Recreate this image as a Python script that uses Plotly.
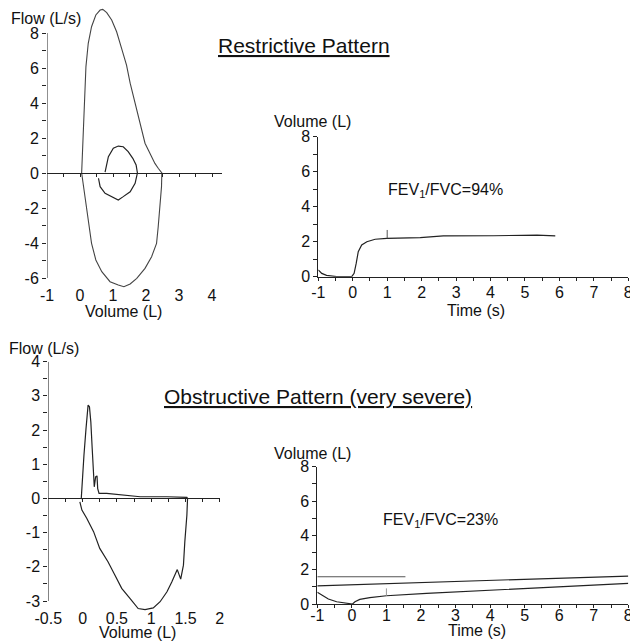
import plotly.graph_objects as go

W, H = 630, 644
FONT = "Liberation Sans, Arial, sans-serif"
INK = "#222222"

# ---------------- data ----------------
# Restrictive: flow-volume loop (forced expiration then inspiration)
rl_loop_vol = [0.05, 0.10, 0.13, 0.18, 0.25, 0.35, 0.48, 0.61, 0.69, 0.81, 0.96, 1.11, 1.26,
               1.41, 1.52, 1.64, 1.77, 1.87, 1.97, 2.07, 2.17, 2.27, 2.37, 2.47,
               2.48, 2.47, 2.42, 2.37, 2.32, 2.17, 1.97, 1.72, 1.52, 1.33, 1.16, 0.91,
               0.66, 0.48, 0.35, 0.25, 0.15, 0.10, 0.05]
rl_loop_flow = [0.00, 2.27, 4.17, 6.08, 7.41, 8.36, 9.03, 9.31, 9.35, 9.16, 8.74, 8.07, 7.12,
                6.17, 5.13, 4.17, 3.22, 2.36, 1.70, 1.31, 0.93, 0.55, 0.27, 0.05,
                0.00, -0.78, -2.11, -3.07, -4.02, -4.78, -5.45, -6.02, -6.34, -6.50, -6.40, -6.21,
                -5.64, -4.97, -4.02, -2.69, -1.16, -0.40, 0.00]
# Restrictive: tidal loop
rl_tidal_vol = [0.56, 0.61, 0.76, 0.96, 1.16, 1.31, 1.52, 1.67, 1.74, 1.70, 1.60, 1.46,
                1.31, 1.16, 1.01, 0.86, 0.76]
rl_tidal_flow = [-0.30, -0.78, -1.16, -1.35, -1.54, -1.35, -1.07, -0.59, 0.00, 0.46, 0.84, 1.22,
                 1.50, 1.54, 1.41, 0.93, 0.05]

# Restrictive: volume-time
rt_time = [-1.0, -0.90, -0.76, -0.47, -0.03, 0.04, 0.10, 0.16, 0.26, 0.41, 0.65, 0.99,
           1.96, 2.63, 4.09, 5.35, 5.88]
rt_vol = [0.38, 0.19, 0.08, 0.00, 0.00, 0.19, 0.76, 1.43, 1.81, 2.00, 2.14, 2.19,
          2.23, 2.33, 2.34, 2.38, 2.33]
rt_fev1_time = [1.0, 1.0]
rt_fev1_vol = [2.19, 2.67]

# Obstructive: flow-volume loop
ol_loop_vol = [-0.02, 0.00, 0.02, 0.05, 0.07, 0.08, 0.10, 0.12, 0.14, 0.16, 0.17, 0.19, 0.21,
               0.22, 0.24, 0.35, 0.59, 0.84, 1.23, 1.52, 1.53,
               1.52, 1.49, 1.47, 1.43, 1.38, 1.30, 1.23, 1.13, 1.03, 0.91, 0.81, 0.69,
               0.57, 0.47, 0.37, 0.25, 0.16, 0.06, -0.01, -0.04]
ol_loop_flow = [-0.02, 0.49, 1.27, 2.05, 2.54, 2.73, 2.68, 2.24, 1.46, 0.78, 0.34, 0.63, 0.66,
                0.29, 0.15, 0.15, 0.10, 0.05, 0.05, 0.03, 0.00,
                -0.49, -1.27, -1.95, -2.36, -2.08, -2.44, -2.73, -3.02, -3.20, -3.25, -3.22, -2.92,
                -2.63, -2.24, -1.85, -1.46, -0.97, -0.58, -0.34, -0.10]

# Obstructive: volume-time
ot_time = [-1.0, -0.83, -0.68, -0.44, -0.15, 0.02, 0.09, 0.23, 0.52, 1.00, 2.16, 4.09, 6.01, 8.0]
ot_vol = [0.68, 0.47, 0.29, 0.13, 0.04, 0.00, 0.13, 0.27, 0.37, 0.48, 0.62, 0.81, 1.01, 1.20]
ot_ref1_time = [-1.0, 1.55]
ot_ref1_vol = [1.59, 1.59]
ot_ref2_time = [-1.0, 8.0]
ot_ref2_vol = [1.06, 1.63]
ot_fev1_time = [1.0, 1.0]
ot_fev1_vol = [0.48, 0.91]

# ticks
rl_x_labels = [-1, 0, 1, 2, 3, 4]
rl_x_text = ["-1", "0", "1", "2", "3", "4"]
rl_x_ticks = [-0.5, 0, 0.5, 1, 1.5, 2, 2.5, 3, 3.5, 4]
rl_y_labels = [-6, -4, -2, 0, 2, 4, 6, 8]
rl_y_text = ["-6", "-4", "-2", "0", "2", "4", "6", "8"]
rl_y_minor = [-5, -3, -1, 1, 3, 5, 7]
t_x_labels = [-1, 0, 1, 2, 3, 4, 5, 6, 7, 8]
t_x_text = ["-1", "0", "1", "2", "3", "4", "5", "6", "7", "8"]
t_x_minor = [-0.5, 0.5, 1.5, 2.5, 3.5, 4.5, 5.5, 6.5, 7.5]
t_y_labels = [0, 2, 4, 6, 8]
t_y_text = ["0", "2", "4", "6", "8"]
t_y_minor = [1, 3, 5, 7]
ol_x_labels = [-0.5, 0, 0.5, 1, 1.5, 2]
ol_x_text = ["-0.5", "0", "0.5", "1", "1.5", "2"]
ol_x_ticks = [-0.25, 0, 0.25, 0.5, 0.75, 1, 1.25, 1.5, 1.75, 2]
ol_y_labels = [-3, -2, -1, 0, 1, 2, 3, 4]
ol_y_text = ["-3", "-2", "-1", "0", "1", "2", "3", "4"]
ol_y_minor = [-2.5, -1.5, -0.5, 0.5, 1.5, 2.5, 3.5]

# ---------------- layout helpers ----------------
def xd(a, b):
    return [a / W, b / W]

def yd(top, bottom):
    return [1 - bottom / H, 1 - top / H]

def zero_pos(dom, rng):
    return dom[0] + (0 - rng[0]) / (rng[1] - rng[0]) * (dom[1] - dom[0])

tickfont = dict(family=FONT, size=16, color="#111")

# panel geometry (pixels)
tl_xr, tl_yr = [-1, 4.3], [-6.7, 9.6]
tl_xd, tl_yd = xd(47, 221.9), yd(5, 290.25)
tr_xr, tr_yr = [-1, 8], [0, 8]
tr_xd, tr_yd = xd(318.3, 628.3), yd(136.7, 276.7)
bl_xr, bl_yr = [-0.5, 2], [-3.35, 4]
bl_xd, bl_yd = xd(48.3, 219.8), yd(361.7, 613.0)
br_xr, br_yr = [-1, 8], [0, 8]
br_xd, br_yd = xd(317.3, 628.3), yd(466.7, 604)

fig = go.Figure()
line = dict(color=INK, width=1.2)
fig.add_trace(go.Scatter(x=rl_loop_vol, y=rl_loop_flow, mode="lines", line=dict(color="#444", width=1.1), xaxis="x", yaxis="y"))
fig.add_trace(go.Scatter(x=rl_tidal_vol, y=rl_tidal_flow, mode="lines", line=line, xaxis="x", yaxis="y"))
fig.add_trace(go.Scatter(x=rt_time, y=rt_vol, mode="lines", line=line, xaxis="x2", yaxis="y2"))
fig.add_trace(go.Scatter(x=rt_fev1_time, y=rt_fev1_vol, mode="lines", line=dict(color="#555", width=1), xaxis="x2", yaxis="y2"))
fig.add_trace(go.Scatter(x=ol_loop_vol, y=ol_loop_flow, mode="lines", line=line, xaxis="x3", yaxis="y3"))
fig.add_trace(go.Scatter(x=ot_ref1_time, y=ot_ref1_vol, mode="lines", line=dict(color="#555", width=1.1), xaxis="x4", yaxis="y4"))
fig.add_trace(go.Scatter(x=ot_ref2_time, y=ot_ref2_vol, mode="lines", line=line, xaxis="x4", yaxis="y4"))
fig.add_trace(go.Scatter(x=ot_time, y=ot_vol, mode="lines", line=line, xaxis="x4", yaxis="y4"))
fig.add_trace(go.Scatter(x=ot_fev1_time, y=ot_fev1_vol, mode="lines", line=dict(color="#999", width=1), xaxis="x4", yaxis="y4"))
# invisible carriers so the tick-label axes are drawn
fig.add_trace(go.Scatter(x=rl_x_labels, y=[0] * len(rl_x_labels), mode="lines", line=dict(width=0), opacity=0, hoverinfo="skip", xaxis="x5", yaxis="y"))
fig.add_trace(go.Scatter(x=ol_x_labels, y=[0] * len(ol_x_labels), mode="lines", line=dict(width=0), opacity=0, hoverinfo="skip", xaxis="x6", yaxis="y3"))

base = dict(showgrid=False, zeroline=False, linecolor=INK, linewidth=1, tickcolor=INK,
            tickwidth=1, tickfont=tickfont, fixedrange=True)

def yaxis(rng, dom, anchor, labels, text, minor, showline=True):
    return dict(base, range=rng, domain=dom, anchor=anchor, showline=showline,
                tickmode="array", tickvals=labels, ticktext=text, ticks="outside", ticklen=4,
                minor=dict(tickmode="array", tickvals=minor, ticks="outside", ticklen=4,
                           tickcolor=INK, tickwidth=1))

def label_axis(rng, dom, over, anchor, vals, text, standoff):
    return dict(base, range=rng, domain=dom, overlaying=over, anchor=anchor, side="bottom",
                showline=False, tickmode="array", tickvals=vals, ticktext=text, ticks="",
                showticklabels=True, ticklabelstandoff=standoff, ticklabeloverflow="allow")

def time_axis(rng, dom, anchor, standoff):
    return dict(base, range=rng, domain=dom, anchor=anchor, showline=True, tickmode="array",
                tickvals=t_x_labels, ticktext=t_x_text, ticks="outside", ticklen=3,
                ticklabeloverflow="allow", ticklabelstandoff=standoff,
                minor=dict(tickmode="array", tickvals=t_x_minor, ticks="outside", ticklen=3,
                           tickcolor=INK))

layout = dict(
    width=W, height=H, margin=dict(l=0, r=0, t=0, b=0, autoexpand=False),
    paper_bgcolor="white", plot_bgcolor="white", showlegend=False,
    font=dict(family=FONT, color="#111"),
    # top-left: axis line through zero flow
    xaxis=dict(base, range=tl_xr, domain=tl_xd, anchor="free", position=zero_pos(tl_yd, tl_yr),
               showline=True, tickmode="array", tickvals=rl_x_ticks, ticks="outside",
               ticklen=3, showticklabels=False),
    yaxis=yaxis(tl_yr, tl_yd, "x", rl_y_labels, rl_y_text, rl_y_minor, showline=False),
    xaxis5=label_axis(tl_xr, tl_xd, "x", "y", rl_x_labels, rl_x_text, -6),
    # top-right
    xaxis2=time_axis(tr_xr, tr_xd, "y2", -2),
    yaxis2=yaxis(tr_yr, tr_yd, "x2", t_y_labels, t_y_text, t_y_minor),
    # bottom-left
    xaxis3=dict(base, range=bl_xr, domain=bl_xd, anchor="free", position=zero_pos(bl_yd, bl_yr),
                showline=True, tickmode="array", tickvals=ol_x_ticks, ticks="outside",
                ticklen=3, showticklabels=False),
    yaxis3=yaxis(bl_yr, bl_yd, "x3", ol_y_labels, ol_y_text, ol_y_minor, showline=False),
    xaxis6=label_axis(bl_xr, bl_xd, "x3", "y3", ol_x_labels, ol_x_text, -6),
    # bottom-right
    xaxis4=time_axis(br_xr, br_xd, "y4", -6),
    yaxis4=yaxis(br_yr, br_yd, "x4", t_y_labels, t_y_text, t_y_minor),
)
fig.update_layout(**layout)

# y-axis lines that only span the labelled ticks
fig.add_shape(type="line", xref="x", yref="y", x0=tl_xr[0], x1=tl_xr[0],
              y0=min(rl_y_labels), y1=max(rl_y_labels), line=dict(color=INK, width=1))
fig.add_shape(type="line", xref="x3", yref="y3", x0=bl_xr[0], x1=bl_xr[0],
              y0=min(ol_y_labels), y1=max(ol_y_labels), line=dict(color=INK, width=1))

def ann(text, px, py, size=16, **kw):
    fig.add_annotation(text=text, x=px / W, y=1 - py / H, xref="paper", yref="paper",
                       showarrow=False, xanchor="center", yanchor="middle",
                       font=dict(family=FONT, size=size, color="#111"), **kw)

ann("<u>Restrictive Pattern</u>", 304, 46, size=21)
ann("<u>Obstructive Pattern (very severe)</u>", 318, 396, size=21)
ann("Flow (L/s)", 46, 19)
ann("Volume (L)", 123, 311)
ann("Volume (L)", 312, 122)
ann("Time (s)", 476, 310)
ann("Flow (L/s)", 44, 348)
ann("Volume (L)", 137, 632)
ann("Volume (L)", 312, 453)
ann("Time (s)", 477, 630)

fig.add_annotation(text="FEV<sub>1</sub>/FVC=94%", x=2.68, y=4.95, xref="x2", yref="y2",
                   showarrow=False, font=dict(family=FONT, size=16, color="#111"))
fig.add_annotation(text="FEV<sub>1</sub>/FVC=23%", x=2.56, y=4.88, xref="x4", yref="y4",
                   showarrow=False, font=dict(family=FONT, size=16, color="#111"))

fig.write_html("out.html", config={"displayModeBar": False},
               post_script="document.body.style.margin='0';document.body.style.overflow='hidden';")
